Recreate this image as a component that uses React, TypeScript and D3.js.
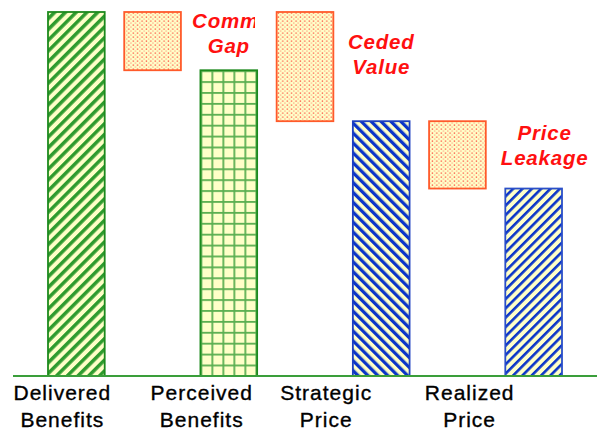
import React from "react";
import * as d3 from "d3";

// Value chain: what the customer receives vs. what the seller ends up capturing
const categories = ["Delivered Benefits", "Perceived Benefits", "Strategic Price", "Realized Price"];
const categoryLines = [
  ["Delivered", "Benefits"],
  ["Perceived", "Benefits"],
  ["Strategic", "Price"],
  ["Realized", "Price"],
];
const values = [100, 84, 70, 51.5];
const gapNames = ["Comm. Gap", "Ceded Value", "Price Leakage"];
const gapLines = [
  ["Comm.", "Gap"],
  ["Ceded", "Value"],
  ["Price", "Leakage"],
];
// each gap block hangs from this level down to the next bar's value
const gapFrom = [100, 100, 70];

const W = 597;
const H = 431;
const baseY = 376;
const topY = 12;

// horizontal nudges for the category captions, relative to each bar centre
const captionShift = [-14, -27, -55, -64];
// annotation placement relative to the following bar centre / gap top
const noteShiftX = [0, 0, 11];
const noteShiftY = [16, 37, 19];

const YELLOW = "#ffffc8";
const GREEN = "#2e9b2e";
const GREEN_DARK = "#1d8a1d";
const BLUE = "#0b35c8";
const RED = "#ff1010";
const ORANGE = "#ff5a2a";

const barPatterns = ["hatchUp", "grid", "hatchDown", "hatchUpThin"];
const barStroke = [GREEN_DARK, GREEN_DARK, "#1c3fc0", "#2b4fc8"];

export default function App() {
  const slots = d3.range(categories.length * 2 - 1).map(String);
  const x = d3.scaleBand<string>().domain(slots).range([48, 562]).paddingInner(0.256).paddingOuter(0);
  const y = d3.scaleLinear().domain([0, 100]).range([baseY, topY]);
  const bw = x.bandwidth();

  const bars = categories.map((c, i) => ({
    name: c,
    value: values[i],
    x0: x(String(i * 2))!,
  }));
  const gaps = gapNames.map((g, i) => ({
    name: g,
    hi: gapFrom[i],
    lo: values[i + 1],
    x0: x(String(i * 2 + 1))!,
  }));

  return (
    <svg
      width={W}
      height={H}
      viewBox={`0 0 ${W} ${H}`}
      style={{ position: "absolute", left: 0, top: 0, background: "#fff" }}
    >
      <defs>
        <pattern id="hatchUp" patternUnits="userSpaceOnUse" width={7.6} height={7.6} patternTransform="rotate(45)">
          <rect width={7.6} height={7.6} fill={YELLOW} />
          <rect width={3.5} height={7.6} fill={GREEN} />
        </pattern>
        <pattern id="hatchDown" patternUnits="userSpaceOnUse" width={7} height={7} patternTransform="rotate(-45)">
          <rect width={7} height={7} fill={YELLOW} />
          <rect width={3.3} height={7} fill={BLUE} />
        </pattern>
        <pattern id="hatchUpThin" patternUnits="userSpaceOnUse" width={6.6} height={6.6} patternTransform="rotate(45)">
          <rect width={6.6} height={6.6} fill={YELLOW} />
          <rect width={2.6} height={6.6} fill={BLUE} />
        </pattern>
        <pattern
          id="grid"
          patternUnits="userSpaceOnUse"
          width={11}
          height={10.9}
          x={bars[1].x0}
          y={y(values[1])}
        >
          <rect width={11} height={10.9} fill={YELLOW} />
          <rect width={1.8} height={10.9} fill="#5aae50" />
          <rect width={11} height={1.8} fill="#5aae50" />
        </pattern>
        <pattern id="dots" patternUnits="userSpaceOnUse" width={4.4} height={4}>
          <rect width={4.4} height={4} fill={YELLOW} />
          <rect x={0.6} y={0.5} width={1.3} height={1.2} fill="#ff1a1a" opacity={0.85} />
          <rect x={2.8} y={2.5} width={1.2} height={1.1} fill="#ff4040" opacity={0.6} />
        </pattern>
        <clipPath id="noteClip0">
          <rect x={0} y={0} width={255} height={H} />
        </clipPath>
      </defs>

      {bars.map((b, i) => (
        <rect
          key={b.name}
          x={b.x0}
          y={y(b.value)}
          width={bw}
          height={baseY - y(b.value)}
          fill={`url(#${barPatterns[i]})`}
          stroke={barStroke[i]}
          strokeWidth={1.8}
        />
      ))}

      {gaps.map((g) => (
        <rect
          key={g.name}
          x={g.x0}
          y={y(g.hi)}
          width={bw}
          height={y(g.lo) - y(g.hi)}
          fill="url(#dots)"
          stroke={ORANGE}
          strokeWidth={1.8}
        />
      ))}

      <line x1={13} x2={W} y1={baseY} y2={baseY} stroke="#3a9e3a" strokeWidth={1.8} />

      {gaps.map((g, i) => {
        const cx = bars[i + 1].x0 + bw / 2 + noteShiftX[i];
        const by = y(g.hi) + noteShiftY[i];
        return (
          <text
            key={g.name}
            x={cx}
            y={by}
            textAnchor="middle"
            fontFamily="'Liberation Sans', Arial, sans-serif"
            fontWeight="bold"
            fontStyle="italic"
            fontSize={20.5}
            letterSpacing={0.8}
            fill={RED}
            clipPath={i === 0 ? "url(#noteClip0)" : undefined}
          >
            {gapLines[i].map((ln, k) => (
              <tspan key={ln} x={cx} dy={k === 0 ? 0 : 25}>
                {ln}
              </tspan>
            ))}
          </text>
        );
      })}

      {bars.map((b, i) => {
        const cx = b.x0 + bw / 2 + captionShift[i];
        return (
          <text
            key={b.name}
            x={cx}
            y={400}
            textAnchor="middle"
            fontFamily="'Liberation Sans', Arial, sans-serif"
            fontSize={21}
            letterSpacing={1}
            fill="#000"
            stroke="#000"
            strokeWidth={0.35}
          >
            {categoryLines[i].map((ln, k) => (
              <tspan key={ln} x={cx} dy={k === 0 ? 0 : 27}>
                {ln}
              </tspan>
            ))}
          </text>
        );
      })}
    </svg>
  );
}
